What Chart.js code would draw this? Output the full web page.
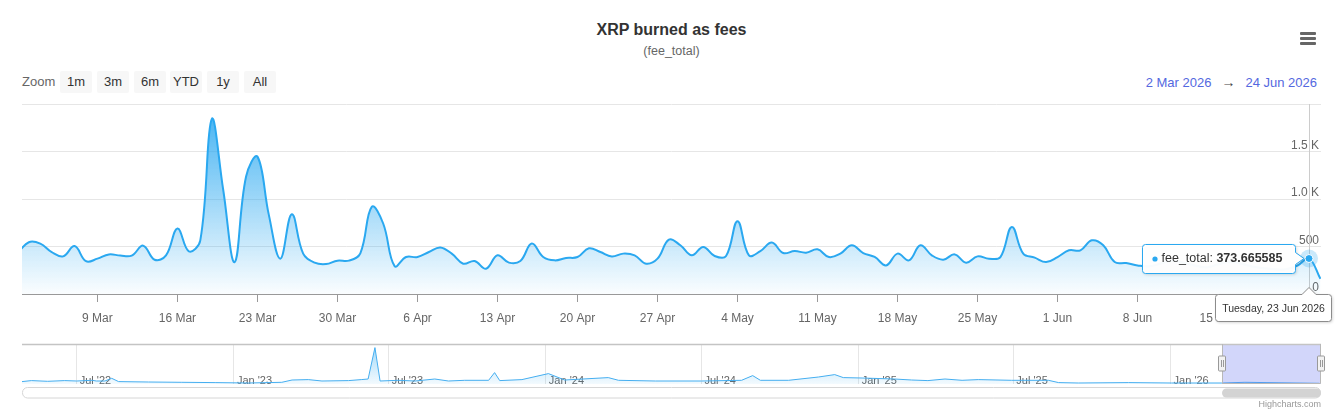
<!DOCTYPE html>
<html>
<head>
<meta charset="utf-8">
<title>XRP burned as fees</title>
<script src="https://cdn.jsdelivr.net/npm/chart.js@4.4.1/dist/chart.umd.min.js"></script>
<style>
  html,body{margin:0;padding:0;background:#fff}
  body{font-family:"Liberation Sans",Arial,Helvetica,sans-serif}
  #wrap{position:relative;width:1343px;height:420px;overflow:hidden;background:#fff}
  .abs{position:absolute}
  #title{left:0;top:20px;width:1343px;text-align:center;font-size:16px;font-weight:700;color:#333;line-height:20px}
  #subtitle{left:0;top:43px;width:1343px;text-align:center;font-size:12.5px;color:#666;line-height:16px}
  .burger{left:1300px;width:16px;height:3px;background:#666;border-radius:1px}
  #zoomLbl{left:22px;top:73px;font-size:13px;color:#666;line-height:18px}
  .zbtn{top:71px;width:32px;height:22px;background:#f7f7f7;color:#333;font-size:13px;line-height:22px;text-align:center;border-radius:2px}
  #range{right:26px;top:73px;font-size:13px;line-height:18px;color:#5468e0;white-space:nowrap}
  #range .arr{color:#444;margin:0 10px;font-size:14px}
  #credits{right:22px;top:398px;font-size:9px;color:#999;line-height:12px}
  #main{left:0;top:95px}
  #nav{left:0;top:338px}
</style>
</head>
<body>
<div id="wrap">
  <div id="title" class="abs">XRP burned as fees</div>
  <div id="subtitle" class="abs">(fee_total)</div>
  <div class="abs burger" style="top:32px"></div>
  <div class="abs burger" style="top:37px"></div>
  <div class="abs burger" style="top:42px"></div>

  <div id="zoomLbl" class="abs">Zoom</div>
  <div class="abs zbtn" style="left:60px">1m</div>
  <div class="abs zbtn" style="left:97px">3m</div>
  <div class="abs zbtn" style="left:134px">6m</div>
  <div class="abs zbtn" style="left:170px">YTD</div>
  <div class="abs zbtn" style="left:207px">1y</div>
  <div class="abs zbtn" style="left:244px">All</div>
  <div id="range" class="abs">2 Mar 2026<span class="arr">&rarr;</span>24 Jun 2026</div>

  <canvas id="main" class="abs" width="1343" height="239"></canvas>
  <canvas id="nav" class="abs" width="1343" height="64"></canvas>
  <div id="credits" class="abs">Highcharts.com</div>
</div>

<script>
// ══════════════════════════════════════
// DATA — daily fee_total, day 0 = 2 Mar 2026
// ══════════════════════════════════════
const feeTotal = [
  430, 545, 530, 440, 396, 505, 345, 372, 417, 404,
  404, 509, 361, 407, 689, 449, 565, 1841, 1100, 336,
  1235, 1446, 830, 372, 840, 425, 330, 315, 351, 351,
  428, 918, 742, 294, 389, 389, 442, 490, 425, 319,
  347, 266, 407, 330, 347, 531, 389, 354, 379, 389,
  481, 442, 396, 425, 407, 319, 372, 573, 513, 407,
  495, 400, 400, 766, 407, 452, 541, 431, 452, 435,
  470, 389, 425, 513, 431, 390, 301, 425, 354, 513,
  407, 361, 417, 330, 396, 372, 389, 706, 425, 383,
  336, 389, 460, 460, 565, 513, 336, 326, 301, 290,
  320, 350, 330, 300, 280, 310, 340, 320, 290, 270,
  260, 260, 300, 373.665585, 160
];

// x-axis ticks (days from 2 Mar)
const mainTickDays   = [7, 14, 21, 28, 35, 42, 49, 56, 63, 70, 77, 84, 91, 98, 105, 112];
const mainTickLabels = ['9 Mar','16 Mar','23 Mar','30 Mar','6 Apr','13 Apr','20 Apr','27 Apr',
                        '4 May','11 May','18 May','25 May','1 Jun','8 Jun','15 Jun','22 Jun'];
const yTickValues = [0, 500, 1000, 1500, 2000];
const yTickLabels = ['0', '500', '1.0 K', '1.5 K', ''];

// navigator (full history, coarse readings)
const navDays = [
  -1404, -1393, -1374, -1354, -1340, -1322, -1317, -1307, -1299, -1291,
  -1256, -1217, -1178, -1139, -1100, -1088, -1069, -1053, -1022, -1007,
  -999, -991, -985, -964, -944, -921, -905, -886, -858, -851,
  -845, -819, -788, -769, -718, -706, -663, -609, -562, -549,
  -540, -507, -472, -453, -443, -421, -383, -363, -344, -324,
  -304, -285, -246, -203, -191, -168, -109, -59, 0, 27, 114
];
const navFees = [
  960, 1360, 1080, 1360, 1200, 1480, 1200, 1200, 2280, 960,
  800, 680, 560, 400, 680, 1600, 1760, 1200, 1360, 1760,
  2000, 14560, 1200, 1480, 1200, 2000, 1200, 1480, 1480, 4560,
  1360, 1760, 4160, 1600, 2560, 1480, 1200, 1200, 1480, 3360,
  1480, 1480, 2800, 3760, 2560, 2400, 2000, 1600, 1360, 2000,
  1480, 1760, 1480, 1480, 560, 400, 560, 400, 400, 680, 280
];
const navTickDays   = [-1340, -1156, -975, -791, -609, -425, -244, -60];
const navTickLabels = ["Jul '22","Jan '23","Jul '23","Jan '24","Jul '24","Jan '25","Jul '25","Jan '26"];

const HOVER_INDEX = 113;
const HOVER_DATE  = 'Tuesday, 23 Jun 2026';
const SEL_FROM = 0;

const FONT = '"Liberation Sans", Arial, Helvetica, sans-serif';
const LINE = '#2aa8f0';

Chart.defaults.font.family = FONT;

// ══════════════════════════════════════
// HELPERS
// ══════════════════════════════════════
function areaGrad(a0, a1){
  return ctx => {
    const ch = ctx.chart, a = ch.chartArea;
    if(!a) return 'rgba(42,168,240,.2)';
    const g = ch.ctx.createLinearGradient(0, a.top, 0, a.bottom);
    g.addColorStop(0, 'rgba(42,168,240,'+a0+')');
    g.addColorStop(1, 'rgba(42,168,240,'+a1+')');
    return g;
  };
}

function roundRect(ctx, x, y, w, h, r){
  ctx.beginPath();
  ctx.moveTo(x+r, y);
  ctx.lineTo(x+w-r, y); ctx.arcTo(x+w, y, x+w, y+r, r);
  ctx.lineTo(x+w, y+h-r); ctx.arcTo(x+w, y+h, x+w-r, y+h, r);
  ctx.lineTo(x+r, y+h); ctx.arcTo(x, y+h, x, y+h-r, r);
  ctx.lineTo(x, y+r); ctx.arcTo(x, y, x+r, y, r);
  ctx.closePath();
}

// crosshair, hover marker, tooltip and date label for the active point
const hoverMarker = {
  id: 'hoverMarker',
  beforeDatasetsDraw(chart){
    const pt = chart.getDatasetMeta(0).data[HOVER_INDEX];
    const {ctx, chartArea: a} = chart;
    const x = Math.round(pt.x) + .5;
    ctx.save();
    ctx.strokeStyle = '#cccccc'; ctx.lineWidth = 1;
    ctx.beginPath(); ctx.moveTo(x, a.top); ctx.lineTo(x, a.bottom); ctx.stroke();
    ctx.restore();
  },
  afterDraw(chart){
    const {ctx, chartArea: a} = chart;
    const pt = chart.getDatasetMeta(0).data[HOVER_INDEX];
    const px = pt.x, py = pt.y;
    ctx.save();

    // halo + marker
    ctx.fillStyle = 'rgba(42,168,240,.25)';
    ctx.beginPath(); ctx.arc(px, py, 9, 0, Math.PI*2); ctx.fill();
    ctx.fillStyle = LINE; ctx.strokeStyle = '#fff'; ctx.lineWidth = 1;
    ctx.beginPath(); ctx.arc(px, py, 4, 0, Math.PI*2); ctx.fill(); ctx.stroke();

    // tooltip box with callout to the right
    const bw = 153, bh = 29, r = 3;
    const bx = Math.round(px - 14 - bw) + .5, by = Math.round(py - bh/2) + .5;
    const rx = bx + bw;
    ctx.beginPath();
    ctx.moveTo(bx+r, by);
    ctx.lineTo(rx-r, by); ctx.arcTo(rx, by, rx, by+r, r);
    ctx.lineTo(rx, py-6); ctx.lineTo(px-5, py); ctx.lineTo(rx, py+6);
    ctx.lineTo(rx, by+bh-r); ctx.arcTo(rx, by+bh, rx-r, by+bh, r);
    ctx.lineTo(bx+r, by+bh); ctx.arcTo(bx, by+bh, bx, by+bh-r, r);
    ctx.lineTo(bx, by+r); ctx.arcTo(bx, by, bx+r, by, r);
    ctx.closePath();
    ctx.shadowColor = 'rgba(0,0,0,.18)'; ctx.shadowBlur = 3; ctx.shadowOffsetX = 1; ctx.shadowOffsetY = 1;
    ctx.fillStyle = 'rgba(255,255,255,.97)'; ctx.fill();
    ctx.shadowColor = 'transparent';
    ctx.strokeStyle = LINE; ctx.lineWidth = 1; ctx.stroke();

    const ty = by + bh/2;
    ctx.fillStyle = LINE;
    ctx.beginPath(); ctx.arc(bx+12.5, ty, 2.6, 0, Math.PI*2); ctx.fill();
    ctx.textBaseline = 'middle'; ctx.textAlign = 'left';
    ctx.font = '12.5px ' + FONT; ctx.fillStyle = '#333';
    const lbl = 'fee_total: ';
    ctx.fillText(lbl, bx+19, ty);
    const lw = ctx.measureText(lbl).width;
    ctx.font = 'bold 12.5px ' + FONT;
    ctx.fillText(String(feeTotal[HOVER_INDEX]), bx+19+lw, ty);

    // x-axis date label
    const dw = 116, dh = 27;
    const dx = Math.round(px - 94) + .5, dy = Math.round(a.bottom) + .5;
    ctx.beginPath();
    ctx.moveTo(dx+r, dy);
    ctx.lineTo(px-7, dy); ctx.lineTo(px, dy-7); ctx.lineTo(px+7, dy);
    ctx.lineTo(dx+dw-r, dy); ctx.arcTo(dx+dw, dy, dx+dw, dy+r, r);
    ctx.lineTo(dx+dw, dy+dh-r); ctx.arcTo(dx+dw, dy+dh, dx+dw-r, dy+dh, r);
    ctx.lineTo(dx+r, dy+dh); ctx.arcTo(dx, dy+dh, dx, dy+dh-r, r);
    ctx.lineTo(dx, dy+r); ctx.arcTo(dx, dy, dx+r, dy, r);
    ctx.closePath();
    ctx.shadowColor = 'rgba(0,0,0,.2)'; ctx.shadowBlur = 3; ctx.shadowOffsetX = 1; ctx.shadowOffsetY = 1;
    ctx.fillStyle = '#fff'; ctx.fill();
    ctx.shadowColor = 'transparent';
    ctx.strokeStyle = '#8c8c8c'; ctx.stroke();
    ctx.font = '10.5px ' + FONT; ctx.fillStyle = '#333'; ctx.textAlign = 'center';
    ctx.fillText(HOVER_DATE, dx + dw/2, dy + dh/2 + 1);

    ctx.restore();
  }
};

// navigator mask, outline, handles and scrollbar
const navOverlay = {
  id: 'navOverlay',
  afterDraw(chart){
    const {ctx, chartArea: a, scales: {x}} = chart;
    const x0 = Math.round(x.getPixelForValue(SEL_FROM)), x1 = Math.round(a.right);
    ctx.save();
    ctx.fillStyle = 'rgba(105,120,240,.3)';
    ctx.fillRect(x0, a.top, x1 - x0, a.bottom - a.top);

    ctx.strokeStyle = '#c4c4c4'; ctx.lineWidth = 1.5;
    ctx.beginPath(); ctx.moveTo(a.left, a.top + .5); ctx.lineTo(a.right, a.top + .5); ctx.stroke();
    ctx.lineWidth = 1; ctx.strokeStyle = '#b8b8b8';
    ctx.beginPath();
    ctx.moveTo(x0 + .5, a.top); ctx.lineTo(x0 + .5, a.bottom - .5);
    ctx.lineTo(x1 - .5, a.bottom - .5); ctx.lineTo(x1 - .5, a.top);
    ctx.stroke();

    // handles
    [x0, x1].forEach(hx => {
      const hy = a.top + 12;
      roundRect(ctx, hx - 3.5, hy, 7, 15, 1);
      ctx.fillStyle = '#f2f2f2'; ctx.fill();
      ctx.strokeStyle = '#999'; ctx.stroke();
      ctx.beginPath();
      ctx.moveTo(hx - .5, hy + 4); ctx.lineTo(hx - .5, hy + 11);
      ctx.moveTo(hx + 1.5, hy + 4); ctx.lineTo(hx + 1.5, hy + 11);
      ctx.stroke();
    });

    // scrollbar
    const sy = a.bottom + 3.5;
    roundRect(ctx, a.left + .5, sy, a.right - a.left - 1, 10.5, 5);
    ctx.fillStyle = '#fff'; ctx.fill();
    ctx.strokeStyle = '#d6d6d6'; ctx.stroke();
    roundRect(ctx, x0, sy + 1, x1 - x0, 9, 4.5);
    ctx.fillStyle = '#d3d3d3'; ctx.fill();
    ctx.restore();
  }
};

// ══════════════════════════════════════
// MAIN CHART
// ══════════════════════════════════════
new Chart(document.getElementById('main'), {
  type: 'line',
  data: {
    datasets: [{
      data: feeTotal.map((v, i) => ({x: i, y: v})),
      borderColor: LINE, borderWidth: 2,
      pointRadius: 0, tension: 0.4,
      fill: 'origin', backgroundColor: areaGrad(0.9, 0.02)
    }]
  },
  options: {
    responsive: false, animation: false, events: [],
    layout: {padding: {left: 22, right: 22, top: 9, bottom: 0}},
    plugins: {legend: {display: false}, tooltip: {enabled: false}},
    scales: {
      x: {
        type: 'linear', min: 0.4, max: 114.05,
        afterBuildTicks: s => { s.ticks = mainTickDays.map(v => ({value: v})); },
        afterFit: s => { s.height = 40; },
        grid: {drawOnChartArea: false, drawTicks: true, tickLength: 8, tickColor: '#999'},
        border: {color: '#999', width: 1},
        ticks: {color: '#666', font: {size: 12}, padding: 9, maxRotation: 0, autoSkip: false,
                callback: (v, i) => mainTickLabels[i]}
      },
      y: {
        position: 'right', min: 0, max: 2000,
        afterBuildTicks: s => { s.ticks = yTickValues.map(v => ({value: v})); },
        afterFit: s => { s.width = 0; },
        grid: {color: '#e6e6e6', drawTicks: false},
        border: {display: false},
        ticks: {mirror: true, padding: -2, labelOffset: -6, color: '#666', font: {size: 12},
                callback: (v, i) => yTickLabels[i]}
      }
    }
  },
  plugins: [hoverMarker]
});

// ══════════════════════════════════════
// NAVIGATOR
// ══════════════════════════════════════
new Chart(document.getElementById('nav'), {
  type: 'line',
  data: {
    datasets: [{
      data: navDays.map((d, i) => ({x: d, y: navFees[i]})),
      borderColor: '#45aef0', borderWidth: 1,
      pointRadius: 0, tension: 0,
      fill: 'origin', backgroundColor: areaGrad(0.45, 0.06)
    }]
  },
  options: {
    responsive: false, animation: false, events: [],
    layout: {padding: {left: 22, right: 22, top: 6, bottom: 18}},
    plugins: {legend: {display: false}, tooltip: {enabled: false}},
    scales: {
      x: {
        type: 'linear', min: -1404, max: 116,
        afterBuildTicks: s => { s.ticks = navTickDays.map(v => ({value: v})); },
        afterFit: s => { s.height = 0; },
        grid: {color: '#e6e6e6', drawTicks: false},
        border: {display: false},
        ticks: {mirror: true, align: 'start', labelOffset: 3, padding: -4, color: '#666', font: {size: 11},
                maxRotation: 0, autoSkip: false, callback: (v, i) => navTickLabels[i]}
      },
      y: {display: false, min: 0, max: 16000}
    }
  },
  plugins: [navOverlay]
});
</script>
</body>
</html>
